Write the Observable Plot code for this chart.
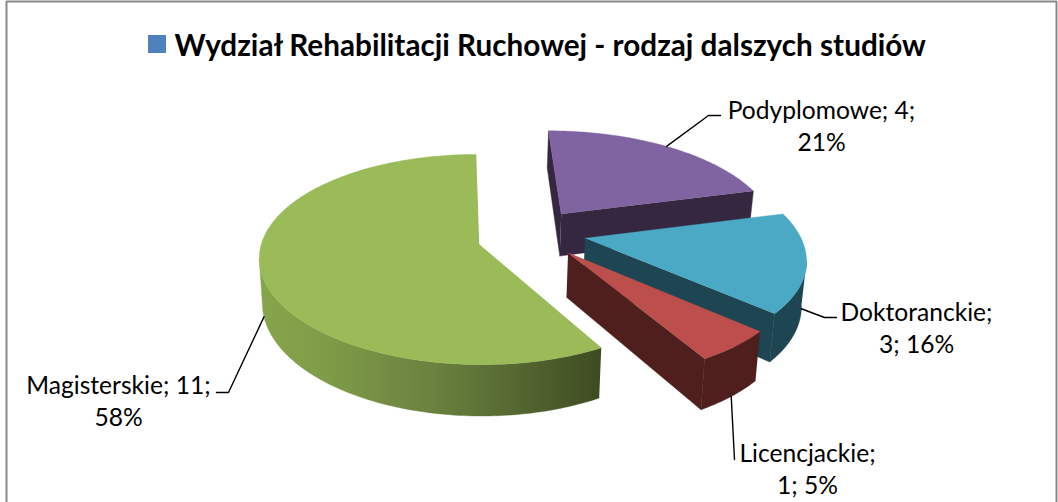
<!DOCTYPE html>
<html>
<head>
<meta charset="utf-8">
<script src="https://cdn.jsdelivr.net/npm/d3@7"></script>
<script src="https://cdn.jsdelivr.net/npm/@observablehq/plot@0.6"></script>
<style>html,body{margin:0;padding:0;background:#fff;overflow:hidden}svg{display:block}</style>
</head>
<body>
<div id="chart"></div>
<script>
// Data, in the clockwise order of the pie
const categories = ["Podyplomowe", "Doktoranckie", "Licencjackie", "Magisterskie"];
const values = [4, 3, 1, 11];
const labelBreakAfterName = [false, true, true, false];
const titleText = "Wydział Rehabilitacji Ruchowej - rodzaj dalszych studiów";

// Styling
const topColors = ["#8064A2", "#4AA9C4", "#BC4F4B", "#9BBB59"];
const sideColors = ["#362741", "#1E4552", "#4E1F1D", "url(#greenWall)"];
const cutColors = ["#362741", "#1E4552", "#4E1F1D", "#4A5A2A"];

// Layout: exploded offset per slice (in pie radii) and the 3D camera
const explode = [[0.47, 0.31], [0.564, 0.06], [0.476, -0.08], [0.074, 0]];
const cam = {ox: 462.6, oy: 244, rx: 218, ry: 103, q: 1 / 7, depth: 44, shrink: 0.985};
const labelPos = [[821, 108, 720, 115], [916, 310, 836, 317], [807, 451, 734, 459], [118, 383, 216, 392]];

const W = 1058, H = 502;
const total = d3.sum(values);
const pct = values.map((v) => Math.round(v / total * 100));
const pieArcs = d3.pie().sort(null).value((d) => d).startAngle(-0.005).endAngle(2 * Math.PI - 0.005)(values);

function project(slice, theta, r = 1, bottom = false) {
  const [ex, ey] = explode[slice];
  const X = ex + r * Math.sin(theta), Y = ey + r * Math.cos(theta);
  const w = 1 + cam.q * Y;
  let x = cam.ox + cam.rx * X / w, y = cam.oy - cam.ry * Y / w;
  if (bottom) { x = cam.ox + (x - cam.ox) * cam.shrink; y += cam.depth / w; }
  return {x, y};
}
function shoelace(p) {
  return d3.sum(p, (a, i) => { const b = p[(i + 1) % p.length]; return a.x * b.y - b.x * a.y; });
}

const polys = [];
const leaders = [];
pieArcs.forEach((arc, i) => {
  const n = Math.max(8, Math.ceil((arc.endAngle - arc.startAngle) * 180 / Math.PI));
  const thetas = d3.range(n + 1).map((k) => arc.startAngle + (arc.endAngle - arc.startAngle) * k / n);
  const top = thetas.map((t) => project(i, t));
  const apexT = project(i, 0, 0), apexB = project(i, 0, 0, true);
  // cut faces, only when they turn to the viewer
  const startFace = [apexT, top[0], project(i, thetas[0], 1, true), apexB];
  const endFace = [apexT, top[n], project(i, thetas[n], 1, true), apexB];
  if (shoelace(startFace) < 0) polys.push({pts: startFace, fill: cutColors[i]});
  if (shoelace(endFace) > 0) polys.push({pts: endFace, fill: cutColors[i]});
  // outer wall: the part of the arc that runs right to left on screen
  const vis = thetas.filter((t, k) => k === 0
    ? top[1].x < top[0].x
    : top[k].x < top[k - 1].x || (k < n && top[k + 1].x < top[k].x));
  if (vis.length > 1) {
    polys.push({pts: [...vis.map((t) => project(i, t)), ...vis.slice().reverse().map((t) => project(i, t, 1, true))], fill: sideColors[i]});
  }
  polys.push({pts: [apexT, ...top], fill: topColors[i]});
  // leader line from the slice's middle angle
  const mid = (arc.startAngle + arc.endAngle) / 2;
  const onTop = Math.cos(mid) > 0;
  const from = project(i, mid, 1, !onTop);
  const [lx, ly, ex, ey] = labelPos[i];
  const elbow = i === 2 ? null : {x: ex + (i === 3 ? 12 : -12), y: ey};
  leaders.push({pts: elbow ? [from, elbow, {x: ex, y: ey}] : [from, {x: ex, y: ey}]});
});

const labels = categories.map((c, i) => ({
  x: labelPos[i][0], y: labelPos[i][1],
  text: labelBreakAfterName[i]
    ? `${c};\n${values[i]}; ${pct[i]}%`
    : `${c}; ${values[i]};\n${pct[i]}%`
}));

const defs = () => {
  const d = d3.create("svg:defs");
  const g = d.append("linearGradient").attr("id", "greenWall")
    .attr("x1", 0).attr("x2", 1).attr("y1", 0).attr("y2", 0);
  [[0, "#87A54C"], [0.2, "#7F9B47"], [0.5, "#6B8240"], [0.75, "#556830"], [1, "#3E4B22"]]
    .forEach(([o, c]) => g.append("stop").attr("offset", o).attr("stop-color", c));
  return d.node();
};

const chart = Plot.plot({
  width: W, height: H,
  margin: 0,
  x: {domain: [0, W], range: [0, W], axis: null},
  y: {domain: [0, H], range: [0, H], axis: null},
  style: {background: "#fff"},
  marks: [
    defs,
    // chart frame
    Plot.line([{x: 6, y: H + 10}, {x: 6, y: 1}, {x: 1056, y: 1}, {x: 1056, y: H + 10}], {x: "x", y: "y", stroke: "#8a8a8a", strokeWidth: 2, clip: false}),
    // slices
    ...polys.map((p) => Plot.line(p.pts, {x: "x", y: "y", fill: p.fill, stroke: p.fill, strokeWidth: 0.4})),
    // leaders
    ...leaders.map((l) => Plot.line(l.pts, {x: "x", y: "y", stroke: "#000", strokeWidth: 1.4})),
    // title with its legend key
    Plot.rect([{x1: 148, x2: 166, y1: 35, y2: 53}], {x1: "x1", x2: "x2", y1: "y1", y2: "y2", fill: "#4F81BD"}),
    Plot.text([titleText], {x: () => 174, y: () => 46, text: (d) => d, textAnchor: "start", fontFamily: "Lato", fontWeight: "bold", fontSize: 29.7, fill: "#000"}),
    // data labels
    Plot.text(labels, {x: "x", y: "y", text: "text", textAnchor: "middle", lineHeight: 1.3, lineAnchor: "middle", fontFamily: "Lato", fontSize: 24.6, fill: "#000", dy: 16})
  ]
});
document.getElementById("chart").appendChild(chart);
</script>
</body>
</html>
